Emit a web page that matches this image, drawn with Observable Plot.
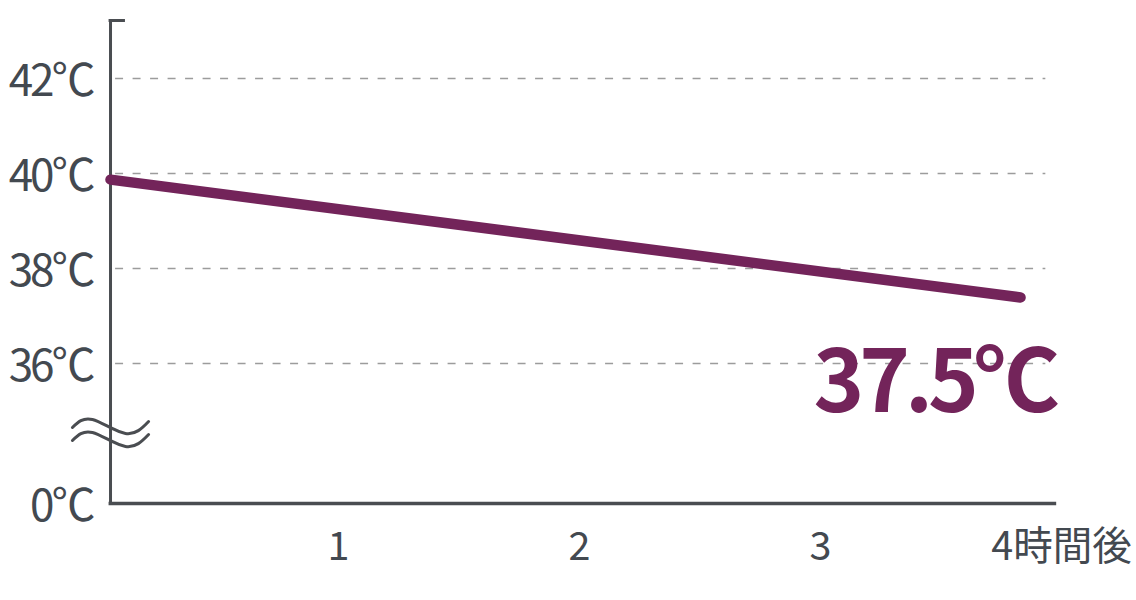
<!DOCTYPE html>
<html>
<head>
<meta charset="utf-8">
<script src="https://cdn.jsdelivr.net/npm/d3@7"></script>
<script src="https://cdn.jsdelivr.net/npm/@observablehq/plot@0.6"></script>
<style>
  html, body { margin: 0; padding: 0; background: #fff; }
  #chart svg { display: block; }
  #chart g[aria-label="text"] text { letter-spacing: -5px; }
  #chart g[aria-label="y-axis tick label"] text { letter-spacing: -3px; }
</style>
</head>
<body>
<div id="chart"></div>
<script>
// Data
const hours = [0.054, 3.83];
const temps = [39.87, 37.39];
const xTicks = [1, 2, 3, 4];
const xTickLabels = ["1", "2", "3", "4時間後"];
const yTicks = [0, 36, 38, 40, 42];
const gridTicks = [36, 38, 40, 42];
const endLabel = "37.5℃";

const axisPos = 0.054;   // hours where the y-axis sits
const axisEnd = 3.98;    // right end of x-axis
const yTop = 43.22;      // top of y-axis
const breakAt = 36;      // below this value the axis is compressed
const breakFactor = 0.08187;

// broken-axis transform: value -> display units
const disp = v => v >= breakAt ? v : breakAt - (breakAt - v) * breakFactor;
const undisp = d => d >= breakAt ? d : breakAt - (breakAt - d) / breakFactor;

const lineData = hours.map((h, i) => ({h, t: disp(temps[i])}));

// break mark (two waves), in data units
const waveX = [-0.104, -0.021, 0.116, 0.212];
const waveUpper = [19.54, 21.60, 18.00, 21.09];
const waveLower = [16.20, 18.26, 14.66, 17.74];
const wave1 = waveX.map((x, i) => ({x, y: disp(waveUpper[i])}));
const wave2 = waveX.map((x, i) => ({x, y: disp(waveLower[i])}));

const ink = "#434950";
const axisInk = "#4a4d51";
const purple = "#73245a";
const font = "'Noto Sans CJK JP', 'Noto Sans', sans-serif";

const plot = Plot.plot({
  width: 1136,
  height: 600,
  marginLeft: 110,
  marginRight: 0,
  marginTop: 20,
  marginBottom: 97,
  style: {fontFamily: font, background: "#fff", overflow: "visible"},
  x: {domain: [0, 4], range: [97, 1061]},
  y: {domain: [disp(0), yTop], range: [503, 20]},
  marks: [
    Plot.ruleY(gridTicks.map(disp), {x1: 0.075, x2: 3.935, stroke: "#9c9c9c", strokeWidth: 1.5, strokeDasharray: "8,9.5"}),
    Plot.axisY({
      anchor: "left", ticks: yTicks.map(disp), tickSize: 0, tickPadding: 18,
      tickFormat: d => Math.round(undisp(d)) + "℃", fontSize: 44, color: ink, dy: 3, label: null
    }),
    Plot.axisX({
      anchor: "bottom", ticks: xTicks, tickSize: 0, tickPadding: 28,
      tickFormat: (d, i) => xTickLabels[i], fontSize: 39.5, color: ink, label: null
    }),
    Plot.ruleX([axisPos], {y1: disp(0), y2: yTop, stroke: axisInk, strokeWidth: 3}),
    Plot.ruleY([disp(0)], {x1: axisPos - 0.006, x2: axisEnd, stroke: axisInk, strokeWidth: 3.5}),
    Plot.ruleY([yTop], {x1: axisPos - 0.006, x2: 0.116, stroke: axisInk, strokeWidth: 3}),
    Plot.line(wave1, {x: "x", y: "y", curve: "natural", stroke: axisInk, strokeWidth: 3}),
    Plot.line(wave2, {x: "x", y: "y", curve: "natural", stroke: axisInk, strokeWidth: 3}),
    Plot.line(lineData, {x: "h", y: "t", stroke: purple, strokeWidth: 10.5, strokeLinecap: "round"}),
    Plot.text([endLabel], {
      x: axisEnd, y: breakAt, text: d => d, textAnchor: "end", dy: 21, dx: -2,
      fontSize: 86, fontWeight: "bold", fill: purple
    })
  ]
});
document.getElementById("chart").appendChild(plot);
</script>
</body>
</html>
